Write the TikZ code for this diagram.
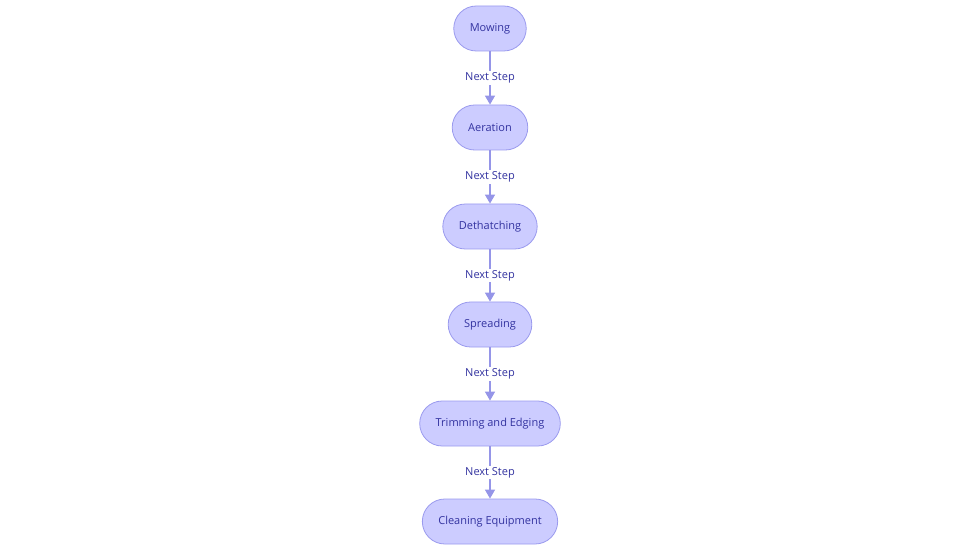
\documentclass[tikz,border=0pt]{standalone}
\usepackage{fontspec}
\setmainfont{Open Sans}
\usetikzlibrary{arrows.meta}
\definecolor{nodefill}{HTML}{CCCCFF}
\definecolor{nodeline}{HTML}{9A9AEE}
\definecolor{txt}{HTML}{3333A0}
\definecolor{edge}{HTML}{9595E8}
\begin{document}
\begin{tikzpicture}[x=1pt,y=-1pt,
  stepbox/.style={draw=nodeline, fill=nodefill, line width=0.8pt, rounded corners=22.5pt,
    minimum height=45pt, inner xsep=16pt, text=txt, font=\fontsize{11}{13}\selectfont},
  flow/.style={draw=edge, line width=1.4pt, -{Triangle[length=9pt,width=10pt]}},
  lbl/.style={fill=white, text=txt, font=\fontsize{11}{13}\selectfont, inner sep=1.5pt}]
\useasboundingbox (0,0) rectangle (980,553);
\node[stepbox] (a) at (490,28.5) {Mowing};
\node[stepbox] (b) at (490,127.5) {Aeration};
\node[stepbox] (c) at (490,226.5) {Dethatching};
\node[stepbox] (d) at (490,324.5) {Spreading};
\node[stepbox] (e) at (490,423.5) {Trimming and Edging};
\node[stepbox] (f) at (490,521.5) {Cleaning Equipment};
\foreach \u/\v in {a/b,b/c,c/d,d/e,e/f}{
  \draw[flow] (\u) -- node[lbl]{Next Step} (\v);
}
\end{tikzpicture}
\end{document}
